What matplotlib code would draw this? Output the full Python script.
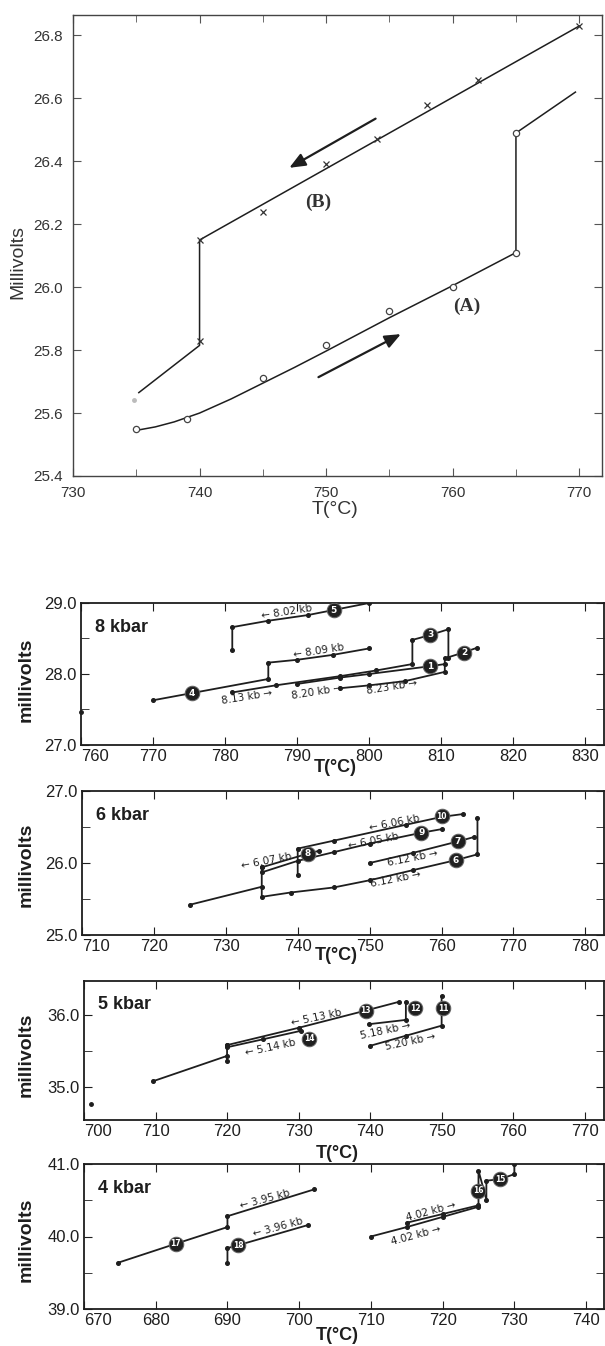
import matplotlib
matplotlib.use("Agg")
import matplotlib.pyplot as plt
from matplotlib.ticker import MultipleLocator, FormatStrFormatter

# ---- top panel (A) heating / (B) cooling ----
a_pts_T = [735, 739, 745, 750, 755, 760, 765, 765]
a_pts_mv = [25.55, 25.58, 25.71, 25.815, 25.925, 26.0, 26.11, 26.49]
a_line_T = [735, 736.5, 738, 740, 742.5, 745, 747.5, 750, 755, 760, 765, 765, 769.7]
a_line_mv = [25.545, 25.556, 25.572, 25.60, 25.645, 25.695, 25.745, 25.797, 25.903, 26.005, 26.11, 26.49, 26.62]
b_pts_T = [770, 762, 758, 754, 750, 745, 740, 740]
b_pts_mv = [26.83, 26.66, 26.58, 26.47, 26.39, 26.24, 26.15, 25.83]
b_line_T = [735.2, 740, 740, 770]
b_line_mv = [25.665, 25.815, 26.15, 26.83]

# ---- 8 kbar ----
k8_802_T = [800, 795, 791.5, 786, 781, 781]
k8_802_mv = [29.0, 28.9, 28.83, 28.75, 28.66, 28.34]
k8_809_T = [800, 795, 790, 786, 786, 770]
k8_809_mv = [28.36, 28.27, 28.2, 28.16, 27.93, 27.63]
k8_813_T = [781, 787, 796, 801, 806, 806, 808.5, 811, 811]
k8_813_mv = [27.74, 27.84, 27.97, 28.05, 28.14, 28.48, 28.55, 28.63, 28.22]
k8_820_T = [790, 796, 800, 808.5, 810.5]
k8_820_mv = [27.86, 27.95, 28.0, 28.11, 28.14]
k8_823_T = [796, 800, 805, 810.5, 810.5, 813, 815]
k8_823_mv = [27.8, 27.84, 27.9, 28.03, 28.22, 28.3, 28.37]
k8_circ_T = [808.5, 813.2, 808.5, 775.4, 795.1]
k8_circ_mv = [28.11, 28.30, 28.55, 27.73, 28.90]
k8_circ_n = ["1", "2", "3", "4", "5"]
k8_lab = ["\u2190 8.02 kb", "\u2190 8.09 kb", "8.13 kb \u2192", "8.20 kb \u2192", "8.23 kb \u2192"]
k8_lab_T = [788.5, 793, 783, 792.7, 803.2]
k8_lab_mv = [28.87, 28.33, 27.68, 27.74, 27.81]
k8_dot_T = [760]
k8_dot_mv = [27.47]

# ---- 6 kbar ----
k6_a_T = [725, 735]
k6_a_mv = [25.42, 25.67]
k6_6_T = [735, 735, 739, 745, 750, 756, 762, 765, 765]
k6_6_mv = [25.95, 25.53, 25.59, 25.66, 25.76, 25.9, 26.04, 26.12, 26.63]
k6_7_T = [750, 756, 762.3, 764.5]
k6_7_mv = [26.0, 26.14, 26.3, 26.36]
k6_9_T = [760, 757.2, 750, 745, 740, 735]
k6_9_mv = [26.47, 26.42, 26.27, 26.15, 26.03, 25.87]
k6_10_T = [763, 760, 755, 745, 740, 740]
k6_10_mv = [26.68, 26.64, 26.53, 26.31, 26.20, 25.84]
k6_8_T = [743, 741.4, 735]
k6_8_mv = [26.17, 26.13, 25.94]
k6_circ_T = [762.0, 762.3, 741.4, 757.2, 760.0]
k6_circ_mv = [26.04, 26.30, 26.13, 26.42, 26.65]
k6_circ_n = ["6", "7", "8", "9", "10"]
k6_lab = ["\u2190 6.06 kb", "\u2190 6.05 kb", "\u2190 6.07 kb", "6.12 kb \u2192", "6.12 kb \u2192"]
k6_lab_T = [753.4, 750.6, 735.7, 756.0, 753.6]
k6_lab_mv = [26.56, 26.31, 26.03, 26.07, 25.78]

# ---- 5 kbar ----
k5_a_T = [709.7, 720, 720, 720]
k5_a_mv = [35.08, 35.43, 35.36, 35.58]
k5_13_T = [720, 730, 739.4, 744]
k5_13_mv = [35.58, 35.82, 36.06, 36.18]
k5_14_T = [720, 725, 730.4]
k5_14_mv = [35.55, 35.66, 35.78]
k5_18_T = [739.8, 745, 745]
k5_18_mv = [35.87, 35.93, 36.18]
k5_20_T = [740, 745, 750, 750]
k5_20_mv = [35.57, 35.71, 35.85, 36.26]
k5_circ_T = [750.2, 746.3, 739.4, 731.5]
k5_circ_mv = [36.09, 36.09, 36.06, 35.67]
k5_circ_n = ["11", "12", "13", "14"]
k5_lab = ["\u2190 5.13 kb", "\u2190 5.14 kb", "5.18 kb \u2192", "5.20 kb \u2192"]
k5_lab_T = [732.5, 726.0, 742.2, 745.7]
k5_lab_mv = [35.96, 35.55, 35.78, 35.62]
k5_dot_T = [701]
k5_dot_mv = [34.76]

# ---- 4 kbar ----
k4_a_T = [674.8, 682.8, 690, 690, 702.1]
k4_a_mv = [39.64, 39.90, 40.13, 40.28, 40.65]
k4_396_T = [690, 690, 691.5, 701.3]
k4_396_mv = [39.63, 39.84, 39.88, 40.16]
k4_402a_T = [710, 715, 720, 725]
k4_402a_mv = [40.0, 40.13, 40.27, 40.41]
k4_402b_T = [715, 720, 725, 725, 726.1, 726.1, 728, 730, 730]
k4_402b_mv = [40.19, 40.31, 40.43, 40.91, 40.51, 40.77, 40.79, 40.86, 41.0]
k4_circ_T = [728.0, 725.0, 682.8, 691.5]
k4_circ_mv = [40.79, 40.63, 39.90, 39.88]
k4_circ_n = ["15", "16", "17", "18"]
k4_lab = ["\u2190 3.95 kb", "\u2190 3.96 kb", "4.02 kb \u2192", "4.02 kb \u2192"]
k4_lab_T = [695.3, 697.0, 718.4, 716.3]
k4_lab_mv = [40.51, 40.12, 40.35, 40.02]

W, H = 605, 1346
fig = plt.figure(figsize=(W / 100, H / 100), dpi=100)
narrow = ["Liberation Sans Narrow", "Liberation Sans", "DejaVu Sans"]
bold = ["Liberation Sans", "DejaVu Sans"]
ink = "#1e1e1e"


def rect(l, r, t, b):
    return [l / W, 1 - b / H, (r - l) / W, (b - t) / H]


# top panel
ax = fig.add_axes(rect(73, 602, 15, 476))
ax.plot(a_line_T, a_line_mv, color=ink, lw=1.1)
ax.plot(b_line_T, b_line_mv, color=ink, lw=1.1)
ax.plot(a_pts_T, a_pts_mv, "o", ms=4.5, mfc="white", mec="#444", mew=0.9)
ax.plot(b_pts_T, b_pts_mv, "x", ms=5, color="#333", mew=0.9)
ax.plot([734.8], [25.64], "o", ms=2.5, color="#bbb")
ax.annotate("", xy=(746.9, 26.375), xytext=(754.1, 26.54),
            arrowprops=dict(arrowstyle="-|>,head_length=0.6,head_width=0.25",
                            lw=1.6, color=ink, mutation_scale=16))
ax.annotate("", xy=(756.1, 25.855), xytext=(749.2, 25.71),
            arrowprops=dict(arrowstyle="-|>,head_length=0.6,head_width=0.25",
                            lw=1.6, color=ink, mutation_scale=16))
ax.text(749.4, 26.27, "(B)", family=["Liberation Serif", "DejaVu Serif"], weight="bold",
        fontsize=14, ha="center", va="center", color="#333")
ax.text(761.1, 25.94, "(A)", family=["Liberation Serif", "DejaVu Serif"], weight="bold",
        fontsize=14, ha="center", va="center", color="#333")
ax.set_xlim(730, 771.8)
ax.set_ylim(25.4, 26.865)
ax.xaxis.set_major_locator(MultipleLocator(10))
ax.xaxis.set_minor_locator(MultipleLocator(5))
ax.yaxis.set_major_locator(MultipleLocator(0.2))
ax.yaxis.set_major_formatter(FormatStrFormatter("%.1f"))
ax.tick_params(which="both", direction="in", top=True, right=True, color="#555")
ax.tick_params(which="major", length=6, labelsize=11, pad=7)
ax.tick_params(which="minor", length=5)
for lab in ax.get_xticklabels() + ax.get_yticklabels():
    lab.set_family(narrow)
    lab.set_color("#333")
for s in ax.spines.values():
    s.set_color("#444")
    s.set_linewidth(1.0)
fig.text(18 / W, 1 - 262 / H, "Millivolts", rotation=90, ha="center", va="center",
         family=narrow, fontsize=14, color="#333")
fig.text(335 / W, 1 - 510 / H, "T(°C)", ha="center", va="center",
         family=narrow, fontsize=14, color="#333")


def panel(r, xlim, ylim, name, segs, circ_T, circ_mv, circ_n, lab, lab_T, lab_mv, rot,
          ylab_c, tlab_off, dot_T=None, dot_mv=None):
    ax = fig.add_axes(rect(*r))
    for T, mv in segs:
        ax.plot(T, mv, color=ink, lw=1.3, marker="o", ms=2.6, solid_joinstyle="miter")
    ax.plot(circ_T, circ_mv, "o", ms=10.5, color="#202020", mec="#666", mew=0.7, zorder=5)
    for T, mv, n in zip(circ_T, circ_mv, circ_n):
        ax.text(T, mv, n, color="white", fontsize=5.5 if len(n) > 1 else 6.5,
                weight="bold", ha="center", va="center", zorder=6)
    for t, T, mv in zip(lab, lab_T, lab_mv):
        ax.text(T, mv, t, family="DejaVu Sans", fontsize=7.5, rotation=rot,
                ha="center", va="center", color=ink)
    if dot_T is not None:
        ax.plot(dot_T, dot_mv, "o", ms=2.5, color=ink, clip_on=False)
    ax.set_xlim(*xlim)
    ax.set_ylim(*ylim)
    ax.set_xticks(list(range(int(xlim[0]), int(xlim[1]) + 1, 10)))
    ax.yaxis.set_major_locator(MultipleLocator(1.0))
    ax.yaxis.set_minor_locator(MultipleLocator(0.5))
    ax.yaxis.set_major_formatter(FormatStrFormatter("%.1f"))
    ax.tick_params(which="both", direction="in", top=True, right=True, color=ink)
    ax.tick_params(which="major", length=6, labelsize=12, pad=3)
    ax.tick_params(which="minor", length=6)
    for lb in ax.get_xticklabels() + ax.get_yticklabels():
        lb.set_family(narrow)
        lb.set_color(ink)
    # the corner label starts at the axis instead of centring on it
    ax.xaxis.get_major_ticks()[0].label1.set_horizontalalignment("left")
    for s in ax.spines.values():
        s.set_color(ink)
        s.set_linewidth(1.3)
    ax.text(0.027, 0.83, name, transform=ax.transAxes, family=bold, weight="bold",
            fontsize=13, ha="left", va="center", color=ink)
    hgt = r[3] - r[2]
    ax.text(0.487, -tlab_off / hgt, "T(°C)", transform=ax.transAxes, family=bold,
            weight="bold", fontsize=13, ha="center", va="center", color=ink)
    fig.text(26 / W, 1 - ylab_c / H, "millivolts", rotation=90, ha="center", va="center",
             family=bold, weight="bold", fontsize=14, color=ink)
    return ax


panel((81, 604, 603, 745), (760, 832.6), (27.0, 29.0), "8 kbar",
      [(k8_802_T, k8_802_mv), (k8_809_T, k8_809_mv), (k8_813_T, k8_813_mv),
       (k8_820_T, k8_820_mv), (k8_823_T, k8_823_mv)],
      k8_circ_T, k8_circ_mv, k8_circ_n, k8_lab, k8_lab_T, k8_lab_mv, 9,
      680, 23, k8_dot_T, k8_dot_mv)

panel((82, 604, 791, 935), (710, 782.6), (25.0, 27.0), "6 kbar",
      [(k6_a_T, k6_a_mv), (k6_6_T, k6_6_mv), (k6_7_T, k6_7_mv), (k6_9_T, k6_9_mv),
       (k6_10_T, k6_10_mv), (k6_8_T, k6_8_mv)],
      k6_circ_T, k6_circ_mv, k6_circ_n, k6_lab, k6_lab_T, k6_lab_mv, 11,
      865, 20)

panel((84, 604, 981, 1120), (700, 772.7), (34.54, 36.47), "5 kbar",
      [(k5_a_T, k5_a_mv), (k5_13_T, k5_13_mv), (k5_14_T, k5_14_mv),
       (k5_18_T, k5_18_mv), (k5_20_T, k5_20_mv)],
      k5_circ_T, k5_circ_mv, k5_circ_n, k5_lab, k5_lab_T, k5_lab_mv, 12,
      1055, 33, k5_dot_T, k5_dot_mv)

panel((84, 604, 1164, 1309), (670, 742.5), (39.0, 41.0), "4 kbar",
      [(k4_a_T, k4_a_mv), (k4_396_T, k4_396_mv), (k4_402a_T, k4_402a_mv),
       (k4_402b_T, k4_402b_mv)],
      k4_circ_T, k4_circ_mv, k4_circ_n, k4_lab, k4_lab_T, k4_lab_mv, 15,
      1240, 26)

fig.savefig("out.png", dpi=100)
